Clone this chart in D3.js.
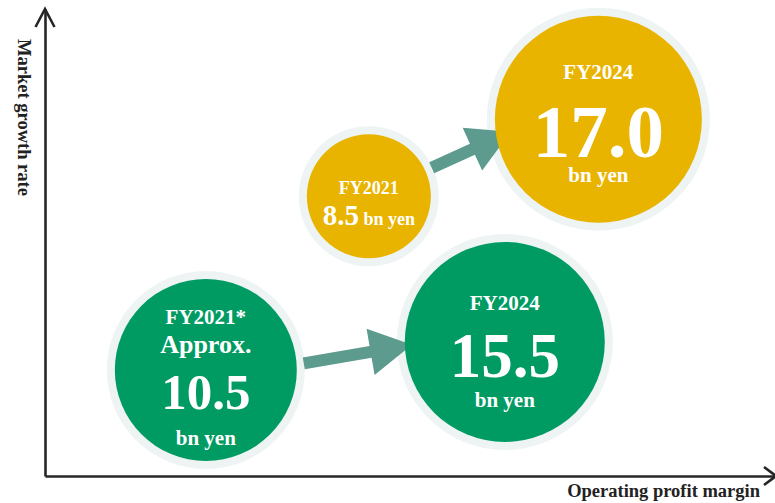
<!DOCTYPE html>
<html>
<head>
<meta charset="utf-8">
<script src="https://cdn.jsdelivr.net/npm/d3@7"></script>
<style>
  body { margin: 0; background: #fff; }
  svg { display: block; font-family: "Liberation Serif", "Times New Roman", serif; font-weight: bold; }
</style>
</head>
<body>
<svg id="chart" width="775" height="503"></svg>
<script>
// bubbles: sales per fiscal year, placed on profit margin / growth map
const years = ["FY2021", "FY2024", "FY2021*", "FY2024"];
const sales = ["8.5", "17.0", "10.5", "15.5"];
const qualifiers = ["", "", "Approx.", ""];
const segment = ["gold", "gold", "green", "green"];
const profitMargin = [44.3, 75.7, 22.0, 62.9];
const growthRate = [59.9, 76.4, 22.7, 28.7];
const bubbleSize = [6.2, 10.35, 9.1, 10.0];

// arrows (start -> tip) in margin / growth units
const arrowFromMargin = [52.9, 35.4];
const arrowFromGrowth = [66.0, 24.1];
const arrowToMargin = [63.7, 50.2];
const arrowToGrowth = [73.7, 28.1];

const xTitle = "Operating profit margin";
const yTitle = "Market growth rate";
const unit = "bn yen";

const W = 775, H = 503;
const origin = {x: 45, y: 476};

const svg = d3.select('#chart');

const x = d3.scaleLinear().domain([0, 100]).range([origin.x, 776]);
const y = d3.scaleLinear().domain([0, 100]).range([origin.y, 9]);
const r = d3.scaleLinear().domain([0, 10]).range([0, 100]);
const color = d3.scaleOrdinal().domain(["gold", "green"]).range(["#e8b400", "#009b63"]);

const axisColor = '#262626';

// axes
const gx = svg.append('g')
  .attr('transform', 'translate(0,' + origin.y + ')')
  .call(d3.axisBottom(x).ticks(0).tickSizeOuter(0));
const gy = svg.append('g')
  .attr('transform', 'translate(' + origin.x + ',0)')
  .call(d3.axisLeft(y).ticks(0).tickSizeOuter(0));
svg.selectAll('.domain').attr('stroke', axisColor).attr('stroke-width', 2.6);

// arrow heads on axes
const xEnd = x.range()[1], yEnd = y.range()[1];
svg.append('path')
  .attr('d', d3.line()([[xEnd - 12, origin.y - 9], [xEnd, origin.y], [xEnd - 12, origin.y + 9]]))
  .attr('fill', 'none').attr('stroke', axisColor).attr('stroke-width', 2.6);
svg.append('path')
  .attr('d', d3.line()([[origin.x - 9.5, yEnd + 18], [origin.x, yEnd], [origin.x + 9.5, yEnd + 18]]))
  .attr('fill', 'none').attr('stroke', axisColor).attr('stroke-width', 2.6);

// axis titles
svg.append('text')
  .attr('x', 760).attr('y', 497)
  .attr('text-anchor', 'end')
  .attr('font-size', 18.5)
  .attr('fill', '#222')
  .text(xTitle);
svg.append('text')
  .attr('transform', 'translate(18,117.5) rotate(90)')
  .attr('text-anchor', 'middle')
  .attr('font-size', 18.5)
  .attr('fill', '#222')
  .text(yTitle);

const bubbles = d3.range(years.length).map(i => ({
  cx: x(profitMargin[i]),
  cy: y(growthRate[i]),
  r: r(bubbleSize[i]),
  fill: color(segment[i])
}));

// halos + bubbles
svg.append('g').selectAll('circle')
  .data(bubbles).join('circle')
  .attr('cx', d => d.cx).attr('cy', d => d.cy)
  .attr('r', d => d.r + 8)
  .attr('fill', '#eef4f4');

// arrows
const arrowColor = '#5c9b8e';
arrowFromMargin.forEach((_, i) => {
  const x0 = x(arrowFromMargin[i]), y0 = y(arrowFromGrowth[i]);
  const x1 = x(arrowToMargin[i]), y1 = y(arrowToGrowth[i]);
  const len = Math.hypot(x1 - x0, y1 - y0);
  const ang = Math.atan2(y1 - y0, x1 - x0) * 180 / Math.PI;
  const head = 42, hw = 23.5, sw = 6;
  svg.append('path')
    .attr('transform', 'translate(' + x0 + ',' + y0 + ') rotate(' + ang + ')')
    .attr('d', d3.line()([[0, -sw], [len - head, -sw], [len - head, -hw], [len, 0],
      [len - head, hw], [len - head, sw], [0, sw]]) + 'Z')
    .attr('fill', arrowColor);
});

svg.append('g').selectAll('circle')
  .data(bubbles).join('circle')
  .attr('cx', d => d.cx).attr('cy', d => d.cy)
  .attr('r', d => d.r)
  .attr('fill', d => d.fill);

// labels
const labelLayouts = [
  [{t: years[0], s: 18, dy: -2.5},
   {parts: [[sales[0], 29], [' ' + unit, 18]], dy: 28.5}],
  [{t: years[1], s: 21, dy: -40},
   {t: sales[1], s: 75, dy: 38},
   {t: unit, s: 21, dy: 63}],
  [{t: years[2], s: 21, dy: -46},
   {t: qualifiers[2], s: 26, dy: -17},
   {t: sales[2], s: 51, dy: 39},
   {t: unit, s: 21, dy: 75}],
  [{t: years[3], s: 21, dy: -32},
   {t: sales[3], s: 63, dy: 35},
   {t: unit, s: 21, dy: 65}]
];

bubbles.forEach((b, i) => {
  labelLayouts[i].forEach(line => {
    const txt = svg.append('text')
      .attr('x', b.cx).attr('y', b.cy + line.dy)
      .attr('text-anchor', 'middle')
      .attr('fill', '#fff');
    if (line.parts) {
      line.parts.forEach(p => txt.append('tspan').attr('font-size', p[1]).text(p[0]));
    } else {
      txt.attr('font-size', line.s).text(line.t);
    }
  });
});
</script>
</body>
</html>
